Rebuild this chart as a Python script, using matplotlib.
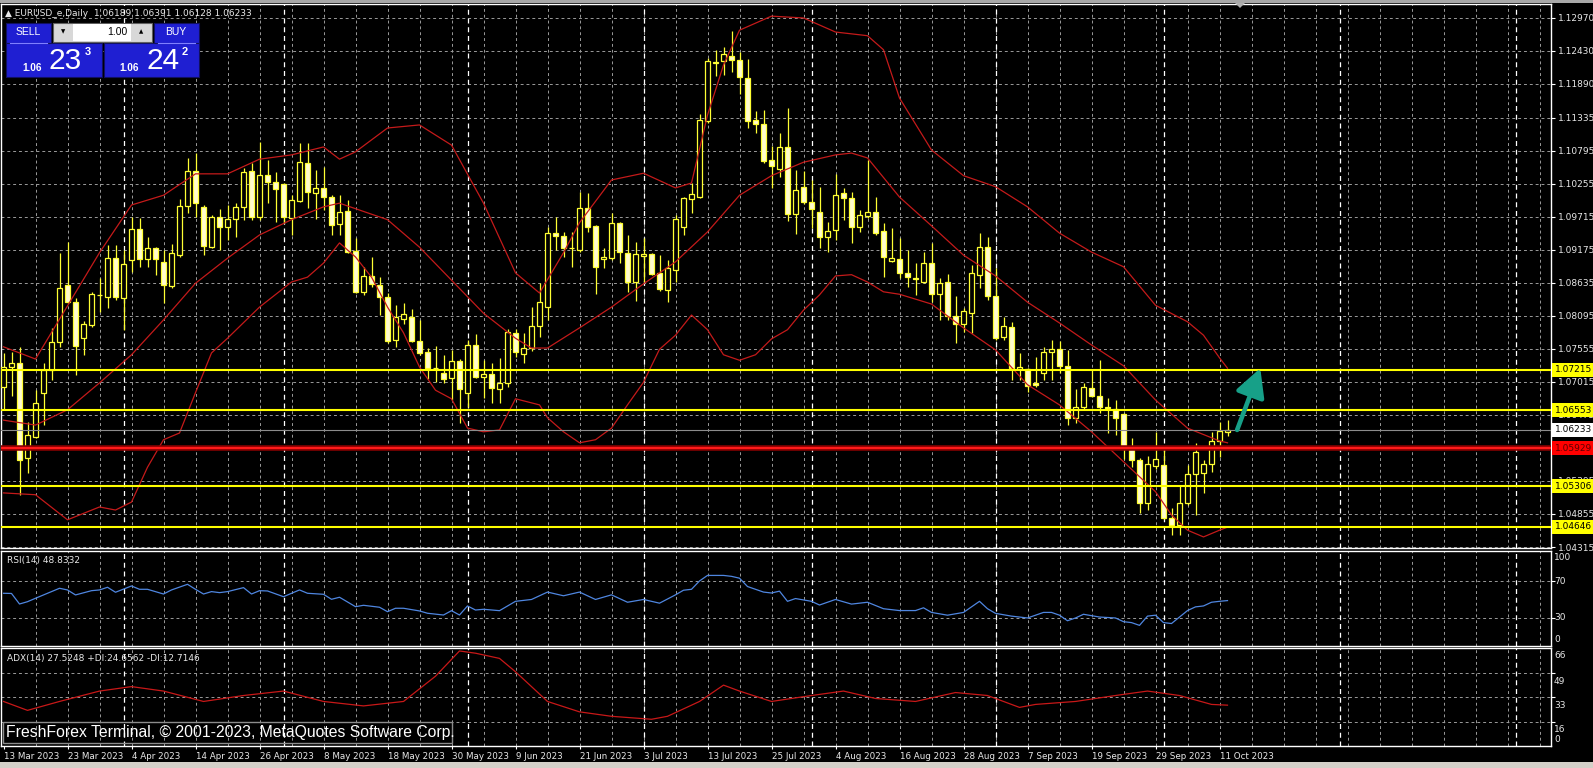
import matplotlib
matplotlib.use("Agg")
import matplotlib.pyplot as plt
from matplotlib.patches import Rectangle, Polygon
from matplotlib.transforms import blended_transform_factory

# ---- data (bar index 0 = 13 Mar 2023) ----
opens = [1.0693, 1.0726, 1.0732, 1.0577, 1.0611, 1.0683, 1.0721, 1.0767, 1.0860, 1.0832,
         1.0774, 1.0794, 1.0844, 1.0841, 1.0905, 1.0839, 1.0901, 1.0952, 1.0903, 1.0921,
         1.0898, 1.0858, 1.0909, 1.0989, 1.1046, 1.0988, 1.0922, 1.0971, 1.0955, 1.0968,
         1.0988, 1.1046, 1.0971, 1.1040, 1.1029, 1.1025, 1.0969, 1.0997, 1.1060, 1.1011,
         1.1019, 1.1004, 1.0960, 1.0981, 1.0916, 1.0849, 1.0875, 1.0860, 1.0841, 1.0770,
         1.0804, 1.0808, 1.0769, 1.0751, 1.0724, 1.0716, 1.0708, 1.0736, 1.0683, 1.0762,
         1.0710, 1.0715, 1.0690, 1.0700, 1.0781, 1.0747, 1.0757, 1.0793, 1.0824, 1.0945,
         1.0940, 1.0921, 1.0917, 1.0986, 1.0957, 1.0903, 1.0904, 1.0961, 1.0912, 1.0865,
         1.0907, 1.0911, 1.0880, 1.0852, 1.0885, 1.0955, 1.1001, 1.1004, 1.1128, 1.1225,
         1.1227, 1.1235, 1.1228, 1.1199, 1.1130, 1.1124, 1.1065, 1.1050, 1.1086, 1.0976,
         1.1021, 1.0996, 1.0979, 1.0938, 1.0950, 1.1011, 1.1002, 1.0955, 1.0973, 1.0979,
         1.0948, 1.0899, 1.0902, 1.0880, 1.0871, 1.0865, 1.0896, 1.0845, 1.0865, 1.0810,
         1.0797, 1.0814, 1.0876, 1.0922, 1.0842, 1.0775, 1.0791, 1.0723, 1.0723, 1.0700,
         1.0716, 1.0751, 1.0755, 1.0728, 1.0643, 1.0661, 1.0692, 1.0679, 1.0660, 1.0657,
         1.0649, 1.0593, 1.0574, 1.0503, 1.0564, 1.0566, 1.0479, 1.0467, 1.0503, 1.0551,
         1.0553, 1.0567, 1.0605, 1.06189]
highs = [1.0749, 1.0750, 1.0759, 1.0636, 1.0688, 1.0732, 1.0790, 1.0912, 1.0930, 1.0839,
         1.0802, 1.0849, 1.0871, 1.0926, 1.0926, 1.0918, 1.0971, 1.0969, 1.0938, 1.0922,
         1.0918, 1.0928, 1.1001, 1.1068, 1.1076, 1.0991, 1.0974, 1.0984, 1.0991, 1.0994,
         1.1052, 1.1060, 1.1094, 1.1065, 1.1045, 1.1027, 1.1007, 1.1092, 1.1092, 1.1048,
         1.1053, 1.1007, 1.1007, 1.0999, 1.0937, 1.0890, 1.0906, 1.0873, 1.0847, 1.0827,
         1.0830, 1.0821, 1.0803, 1.0757, 1.0760, 1.0746, 1.0754, 1.0739, 1.0770, 1.0780,
         1.0738, 1.0732, 1.0741, 1.0788, 1.0788, 1.0781, 1.0824, 1.0863, 1.0955, 1.0971,
         1.0947, 1.0947, 1.1012, 1.1010, 1.0958, 1.0921, 1.0978, 1.0963, 1.0942, 1.0930,
         1.0937, 1.0913, 1.0909, 1.0901, 1.0974, 1.1004, 1.1027, 1.1140, 1.1232, 1.1245,
         1.1250, 1.1276, 1.1241, 1.1230, 1.1145, 1.1146, 1.1088, 1.1109, 1.1150, 1.1048,
         1.1047, 1.1032, 1.1021, 1.0963, 1.1042, 1.1019, 1.1012, 1.0983, 1.1065, 1.1004,
         1.0961, 1.0953, 1.0937, 1.0917, 1.0896, 1.0914, 1.0929, 1.0871, 1.0878, 1.0842,
         1.0823, 1.0893, 1.0945, 1.0938, 1.0888, 1.0808, 1.0800, 1.0749, 1.0724, 1.0742,
         1.0759, 1.0770, 1.0769, 1.0754, 1.0690, 1.0700, 1.0721, 1.0738, 1.0675, 1.0672,
         1.0651, 1.0610, 1.0577, 1.0580, 1.0620, 1.0593, 1.0495, 1.0533, 1.0566, 1.0602,
         1.0574, 1.0620, 1.0636, 1.06391]
lows = [1.0655, 1.0679, 1.0516, 1.0553, 1.0610, 1.0631, 1.0705, 1.0759, 1.0830, 1.0713,
        1.0746, 1.0791, 1.0816, 1.0823, 1.0835, 1.0786, 1.0882, 1.0889, 1.0889, 1.0877,
        1.0831, 1.0855, 1.0906, 1.0978, 1.0971, 1.0909, 1.0921, 1.0917, 1.0933, 1.0938,
        1.0966, 1.0966, 1.0966, 1.0994, 1.0963, 1.0961, 1.0942, 1.0996, 1.0986, 1.0968,
        1.0983, 1.0942, 1.0942, 1.0912, 1.0847, 1.0844, 1.0857, 1.0811, 1.0765, 1.0759,
        1.0796, 1.0767, 1.0746, 1.0706, 1.0701, 1.0700, 1.0672, 1.0634, 1.0660, 1.0708,
        1.0675, 1.0667, 1.0667, 1.0693, 1.0742, 1.0732, 1.0752, 1.0775, 1.0803, 1.0917,
        1.0906, 1.0889, 1.0914, 1.0947, 1.0845, 1.0888, 1.0901, 1.0896, 1.0849, 1.0834,
        1.0865, 1.0876, 1.0850, 1.0832, 1.0865, 1.0942, 1.0978, 1.1002, 1.1125, 1.1202,
        1.1204, 1.1209, 1.1173, 1.1117, 1.1109, 1.1060, 1.1019, 1.1037, 1.0965, 1.0944,
        1.0993, 1.0953, 1.0921, 1.0914, 1.0933, 1.0966, 1.0929, 1.0947, 1.0969, 1.0942,
        1.0873, 1.0898, 1.0872, 1.0857, 1.0844, 1.0863, 1.0832, 1.0803, 1.0803, 1.0765,
        1.0783, 1.0781, 1.0855, 1.0835, 1.0770, 1.0770, 1.0705, 1.0705, 1.0685, 1.0693,
        1.0705, 1.0705, 1.0716, 1.0631, 1.0634, 1.0656, 1.0677, 1.0651, 1.0618, 1.0615,
        1.0575, 1.0562, 1.0487, 1.0492, 1.0559, 1.0477, 1.0451, 1.0451, 1.0500, 1.0484,
        1.0520, 1.0554, 1.0579, 1.06128]
closes = [1.0726, 1.0732, 1.0574, 1.0615, 1.0667, 1.0721, 1.0767, 1.0856, 1.0832, 1.0760,
          1.0797, 1.0845, 1.0843, 1.0905, 1.0841, 1.0895, 1.0952, 1.0903, 1.0921, 1.0903,
          1.0860, 1.0912, 1.0989, 1.1046, 1.0994, 1.0924, 1.0971, 1.0955, 1.0968, 1.0988,
          1.1045, 1.0971, 1.1040, 1.1029, 1.1017, 1.0971, 1.0999, 1.1061, 1.1012, 1.1019,
          1.1004, 1.0958, 1.0979, 1.0914, 1.0849, 1.0875, 1.0862, 1.0841, 1.0769, 1.0808,
          1.0812, 1.0769, 1.0749, 1.0724, 1.0725, 1.0706, 1.0736, 1.0690, 1.0762, 1.0710,
          1.0715, 1.0692, 1.0700, 1.0783, 1.0751, 1.0757, 1.0793, 1.0832, 1.0945, 1.0940,
          1.0921, 1.0920, 1.0986, 1.0955, 1.0890, 1.0906, 1.0961, 1.0914, 1.0865, 1.0911,
          1.0911, 1.0878, 1.0853, 1.0888, 1.0968, 1.1002, 1.1009, 1.1130, 1.1227, 1.1224,
          1.1238, 1.1228, 1.1200, 1.1128, 1.1124, 1.1063, 1.1055, 1.1086, 1.0976, 1.1016,
          1.0996, 1.0985, 1.0938, 1.0948, 1.1007, 1.1002, 1.0955, 1.0975, 1.0979, 1.0945,
          1.0906, 1.0904, 1.0880, 1.0873, 1.0870, 1.0896, 1.0845, 1.0863, 1.0810, 1.0797,
          1.0818, 1.0880, 1.0922, 1.0842, 1.0773, 1.0793, 1.0724, 1.0726, 1.0695, 1.0697,
          1.0751, 1.0755, 1.0728, 1.0643, 1.0661, 1.0693, 1.0679, 1.0661, 1.0659, 1.0643,
          1.0592, 1.0574, 1.0503, 1.0567, 1.0575, 1.0479, 1.0467, 1.0503, 1.0551, 1.0587,
          1.0567, 1.0605, 1.0621, 1.06233]

date_labels = ["13 Mar 2023", "23 Mar 2023", "4 Apr 2023", "14 Apr 2023", "26 Apr 2023",
               "8 May 2023", "18 May 2023", "30 May 2023", "9 Jun 2023", "21 Jun 2023",
               "3 Jul 2023", "13 Jul 2023", "25 Jul 2023", "4 Aug 2023", "16 Aug 2023",
               "28 Aug 2023", "7 Sep 2023", "19 Sep 2023", "29 Sep 2023", "11 Oct 2023"]
month_starts = [15, 35, 58, 80, 101, 124, 145, 167, 189]

# Bollinger bands (20, 2)
bb_up_idx = [0, 4, 8, 12, 16, 20, 24, 28, 32, 36, 40, 42, 44, 48, 52, 56, 60, 64, 67, 70,
             72, 76, 80, 84, 86, 88, 90, 92, 96, 100, 104, 108, 110, 112, 116, 120, 124,
             128, 132, 136, 140, 144, 148, 150, 152, 153]
bb_up = [1.0759, 1.0739, 1.0826, 1.0913, 1.0991, 1.1007, 1.1042, 1.1042, 1.1066, 1.1073,
         1.1086, 1.1066, 1.1078, 1.1117, 1.1122, 1.1089, 1.0994, 1.0880, 1.0847, 1.0913,
         1.0962, 1.1032, 1.1043, 1.1019, 1.1027, 1.1138, 1.1220, 1.1277, 1.1300, 1.1297,
         1.1274, 1.1268, 1.1245, 1.1166, 1.1081, 1.1039, 1.1021, 1.0988, 1.0945, 1.0914,
         1.0890, 1.0827, 1.0800, 1.0778, 1.0741, 1.0724]
bb_mid_idx = [0, 4, 8, 12, 16, 20, 24, 28, 32, 36, 40, 42, 44, 48, 52, 56, 60, 64, 66, 68,
              72, 76, 80, 84, 88, 92, 96, 100, 104, 106, 108, 112, 116, 120, 124, 128, 132,
              136, 140, 144, 148, 152, 153]
bb_mid = [1.0639, 1.0631, 1.0656, 1.0700, 1.0746, 1.0803, 1.0863, 1.0904, 1.0942, 1.0967,
          1.0988, 1.0994, 1.0985, 1.0967, 1.0922, 1.0868, 1.0814, 1.0773, 1.0757, 1.0757,
          1.0790, 1.0824, 1.0862, 1.0898, 1.0947, 1.1007, 1.1039, 1.1061, 1.1073, 1.1076,
          1.1068, 1.1004, 1.0957, 1.0909, 1.0875, 1.0832, 1.0798, 1.0762, 1.0728, 1.0672,
          1.0626, 1.0605, 1.0602]
bb_low_idx = [0, 4, 8, 12, 14, 16, 18, 20, 22, 24, 26, 28, 32, 36, 38, 40, 42, 44, 46, 48,
              50, 52, 54, 56, 58, 60, 62, 64, 67, 68, 70, 72, 74, 76, 78, 80, 82, 84, 86,
              88, 90, 92, 94, 96, 98, 100, 102, 104, 106, 108, 110, 112, 116, 120, 124,
              128, 132, 136, 140, 144, 146, 148, 150, 152, 153]
bb_low = [1.0520, 1.0517, 1.0476, 1.0497, 1.0492, 1.0505, 1.0562, 1.0607, 1.0618, 1.0684,
          1.0749, 1.0773, 1.0824, 1.0865, 1.0873, 1.0896, 1.0929, 1.0906, 1.0873, 1.0824,
          1.0782, 1.0726, 1.0688, 1.0674, 1.0626, 1.0620, 1.0623, 1.0674, 1.0664, 1.0643,
          1.0620, 1.0602, 1.0607, 1.0626, 1.0664, 1.0701, 1.0755, 1.0778, 1.0811, 1.0787,
          1.0746, 1.0737, 1.0746, 1.0772, 1.0787, 1.0819, 1.0844, 1.0875, 1.0877, 1.0865,
          1.0849, 1.0845, 1.0829, 1.0790, 1.0754, 1.0697, 1.0664, 1.0620, 1.0571, 1.0522,
          1.0484, 1.0459, 1.0448, 1.0459, 1.0464]

# RSI(14)
rsi_idx = [0, 1, 2, 3, 4, 5, 7, 8, 9, 11, 12, 13, 14, 16, 17, 18, 20, 21, 23, 24, 25, 26,
           27, 28, 30, 31, 32, 33, 35, 37, 38, 40, 41, 42, 44, 45, 47, 48, 49, 50, 52, 53,
           55, 56, 57, 58, 59, 60, 62, 64, 66, 68, 70, 72, 74, 76, 78, 80, 82, 84, 85, 86,
           87, 88, 90, 91, 92, 93, 95, 96, 97, 98, 99, 101, 102, 104, 106, 108, 110, 112,
           114, 115, 116, 118, 120, 121, 122, 123, 124, 126, 128, 130, 131, 132, 133, 134,
           135, 137, 139, 140, 141, 142, 143, 144, 145, 146, 147, 148, 149, 150, 151, 152,
           153]
rsi_val = [56.7, 56.5, 45.1, 47.6, 51.3, 54.9, 62.1, 60.3, 54.9, 59.5, 60.3, 63.2, 57.8,
           64.6, 61.0, 61.0, 55.9, 60.3, 66.4, 61.0, 55.9, 58.5, 57.4, 58.5, 62.8, 55.9,
           59.5, 59.2, 53.0, 60.3, 56.7, 55.6, 50.2, 52.4, 42.2, 43.7, 41.6, 36.8, 40.5,
           40.5, 37.6, 35.1, 33.2, 37.9, 33.2, 43.0, 38.6, 39.4, 37.9, 48, 50, 58, 54, 58,
           50, 55, 47, 50, 46, 55, 60, 61, 70, 76, 76, 75, 73, 64, 58, 57, 59, 48, 51, 48,
           44, 50, 45, 47, 40, 38, 38, 41, 36, 33, 36, 42, 48, 40, 35, 32, 30, 36, 36, 33,
           27, 30, 34, 31, 30, 26, 25, 22, 32, 33, 25, 24, 31, 38, 42, 43, 47, 48, 48.8]

# ADX(14) main line
adx_idx = [0, 3, 7, 12, 16, 20, 25, 30, 35, 40, 45, 50, 54, 57, 59, 62, 64, 68, 72, 76, 81,
           83, 87, 90, 92, 96, 101, 105, 109, 114, 119, 123, 127, 129, 134, 139, 143, 147,
           151, 153]
adx_val = [30, 24, 30, 37, 40, 37, 30, 34, 37, 30, 27, 30, 47, 64, 62.5, 59, 50, 30, 23, 20,
           18, 20, 30, 41, 37, 30, 34, 37, 32, 30, 36, 34, 26, 28, 30, 34, 37, 34, 28, 27.5]

grid_prices = [1.12970, 1.12430, 1.11890, 1.11335, 1.10795, 1.10255, 1.09715, 1.09175,
               1.08635, 1.08095, 1.07555, 1.07015, 1.06475, 1.05935, 1.05395, 1.04855,
               1.04315]
yellow_levels = [1.07215, 1.06553, 1.05306, 1.04646]
red_level = 1.05929
bid_price = 1.06233

# ---- layout (pixels) ----
W, H = 1593, 768
BAR_PX = 8.0
X0_PX = 3.5           # pixel x of bar 0
AX_L, AX_R = 1, 1551
PX_PER_PRICE = 1 / 0.0001636
P_AT_Y0 = 1.13264     # price at pixel row 0


def fr(x0, y0, x1, y1):
    return [x0 / W, 1 - y1 / H, (x1 - x0) / W, (y1 - y0) / H]


def px(x, y):
    return x / W, 1 - y / H


fig = plt.figure(figsize=(W / 100, H / 100), dpi=100, facecolor="black")

ax = fig.add_axes(fr(AX_L, 4, AX_R, 548))
ax_rsi = fig.add_axes(fr(AX_L, 551, AX_R, 646))
ax_adx = fig.add_axes(fr(AX_L, 648, AX_R, 746))

xlim = ((AX_L - X0_PX) / BAR_PX, (AX_R - X0_PX) / BAR_PX)
grid_c = "#9a9a9a"
dash = (0, (3, 3))
txt_c = "#e8e8e8"

for a in (ax, ax_rsi, ax_adx):
    a.set_facecolor("black")
    a.set_xlim(*xlim)
    for s in a.spines.values():
        s.set_color("white")
        s.set_linewidth(1.0)
    for k in range(4, 194, 4):
        a.axvline(k, color=grid_c, lw=0.7, ls=dash, zorder=0)
    for k in month_starts:
        a.axvline(k, color="white", lw=0.9, ls=(0, (4, 3)), zorder=0.5)
    a.tick_params(axis="x", bottom=False, labelbottom=False)

# ---- main price panel ----
ax.set_ylim(P_AT_Y0 - 548 / PX_PER_PRICE, P_AT_Y0 - 4 / PX_PER_PRICE)
for p in grid_prices:
    ax.axhline(p, color=grid_c, lw=0.7, ls=dash, zorder=0)
ax.yaxis.tick_right()
ax.set_yticks(grid_prices)
ax.set_yticklabels(["%.5f" % p for p in grid_prices])
ax.tick_params(axis="y", colors="white", labelcolor=txt_c, length=3, width=0.8,
               pad=2, labelsize=6.5, left=False)

n = len(closes)
xs = list(range(n))
ax.vlines(xs, lows, highs, color="#ffff33", lw=0.9, zorder=2)
bull = [c >= o for o, c in zip(opens, closes)]
bottoms = [min(o, c) for o, c in zip(opens, closes)]
heights = [max(abs(c - o), 0.00004) for o, c in zip(opens, closes)]
faces = ["black" if b else "#fffbd0" for b in bull]
ax.bar(xs, heights, bottom=bottoms, width=0.55, color=faces, edgecolor="#ffff33",
       linewidth=0.9, zorder=3)

band_c = "#c41a1a"
ax.plot(bb_up_idx, bb_up, color=band_c, lw=0.9, zorder=4)
ax.plot(bb_mid_idx, bb_mid, color=band_c, lw=0.9, zorder=4)
ax.plot(bb_low_idx, bb_low, color=band_c, lw=0.9, zorder=4)

for p in yellow_levels:
    ax.axhline(p, color="#ffff00", lw=1.5, zorder=5)
ax.axhline(red_level, color="#8a0000", lw=4.0, zorder=5)
ax.axhline(red_level, color="#ff1a1a", lw=1.6, zorder=5.1)
ax.axhline(bid_price, color="#8c8c8c", lw=0.8, zorder=5)

tr = blended_transform_factory(ax.transAxes, ax.transData)
lx = (1555 - AX_L) / (AX_R - AX_L)
box_items = [(p, "#ffff00", "black") for p in yellow_levels]
box_items += [(bid_price, "white", "black"), (red_level, "#ff0000", "#5a0000")]
for p, fc, tc in box_items:
    ax.text(lx, p, "%.5f" % p, transform=tr, ha="left", va="center", fontsize=6.5,
            color=tc, clip_on=False, zorder=10,
            bbox=dict(boxstyle="square,pad=0.28", fc=fc, ec="none"))

ax.annotate("", xy=(157.1, 1.0724), xytext=(154.2, 1.0623),
            arrowprops=dict(arrowstyle="-|>,head_length=0.85,head_width=0.45",
                            color="#17a088", lw=3.3, mutation_scale=20,
                            shrinkA=0, shrinkB=0), zorder=8)

# ---- RSI panel ----
ax_rsi.set_ylim(-0.3, 102.4)
for v in (70, 30):
    ax_rsi.axhline(v, color=grid_c, lw=0.7, ls=dash, zorder=0)
ax_rsi.plot(rsi_idx, rsi_val, color="#4f86e0", lw=0.9, zorder=3)
ax_rsi.yaxis.tick_right()
ax_rsi.set_yticks([70, 30])
ax_rsi.tick_params(axis="y", colors="white", length=3, width=0.8, labelright=False,
                   left=False)

# ---- ADX panel ----
ax_adx.set_ylim(0, 66)
for v in (49, 33, 16):
    ax_adx.axhline(v, color=grid_c, lw=0.7, ls=dash, zorder=0)
ax_adx.plot(adx_idx, adx_val, color="#c81818", lw=0.9, zorder=3)
ax_adx.yaxis.tick_right()
ax_adx.set_yticks([49, 33, 16])
ax_adx.tick_params(axis="y", colors="white", length=3, width=0.8, labelright=False,
                   left=False)
ax_adx.set_xticks(list(range(0, 8 * len(date_labels), 8)))
ax_adx.set_xticklabels(date_labels, ha="left")
ax_adx.tick_params(axis="x", bottom=True, labelbottom=True, colors="white",
                   labelcolor=txt_c, length=2.5, width=0.8, pad=1.5, labelsize=6.3)

# right-hand labels of the indicator windows
for lab, y in [("100", 558), ("70", 581), ("30", 618), ("0", 639),
               ("66", 655), ("49", 681), ("33", 706), ("16", 729), ("0", 739)]:
    fig.text(*px(1554, y), lab, color=txt_c, fontsize=6.5, ha="left", va="center")

fig.text(*px(7, 561), "RSI(14) 48.8332", color=txt_c, fontsize=6.5, va="center")
fig.text(*px(7, 658), "ADX(14) 27.5248 +DI:24.6562 -DI:12.7146", color=txt_c,
         fontsize=6.5, va="center")

# header line
fig.text(*px(5, 13), "\u25b2 EURUSD_e,Daily  1.06189 1.06391 1.06128 1.06233",
         color=txt_c, fontsize=6.5, va="center")

# ---- one-click trading panel ----
def prect(x0, y0, x1, y1, **kw):
    fig.add_artist(Rectangle(px(x0, y1), (x1 - x0) / W, (y1 - y0) / H,
                             transform=fig.transFigure, **kw))


blue = "#1f1fd2"
edge = "#101060"
prect(6, 23, 51, 44, fc=blue, ec=edge, lw=0.8)
prect(6, 43, 102, 77, fc=blue, ec=edge, lw=0.8)
prect(154, 23, 199, 44, fc=blue, ec=edge, lw=0.8)
prect(104, 43, 199, 77, fc=blue, ec=edge, lw=0.8)
prect(53, 23, 152, 42, fc="#d8d8d8", ec="#606060", lw=0.8)
prect(73, 24, 131, 41, fc="white", ec="none")
fig.add_artist(plt.Line2D([10 / W, 47 / W], [1 - 43 / H] * 2, color="#8080ff", lw=0.8))
fig.add_artist(plt.Line2D([158 / W, 195 / W], [1 - 43 / H] * 2, color="#8080ff", lw=0.8))

sans = "Liberation Sans"
fig.text(*px(28, 32), "SELL", color="white", fontsize=7.5, family=sans,
         ha="center", va="center")
fig.text(*px(176, 32), "BUY", color="white", fontsize=7.5, family=sans,
         ha="center", va="center")
fig.text(*px(127, 32), "1.00", color="black", fontsize=7.5, family=sans,
         ha="right", va="center")
fig.text(*px(63, 32), "\u25bc", color="black", fontsize=4, ha="center", va="center")
fig.text(*px(141, 32), "\u25b2", color="black", fontsize=4, ha="center", va="center")
for x_small, x_big, x_sup, big, sup in [(22, 48, 85, "23", "3"), (119, 146, 182, "24", "2")]:
    fig.text(*px(x_small, 68), "1.06", color="white", fontsize=7.2, family=sans,
             weight="bold", va="center")
    fig.text(*px(x_big, 61), big, color="white", fontsize=21.5, family=sans,
             va="center")
    fig.text(*px(x_sup, 52), sup, color="white", fontsize=8, family=sans,
             weight="bold", va="center")

# copyright box
prect(3, 722, 452, 743, fc="none", ec="#8c8c8c", lw=1.0)
fig.text(*px(6, 733), "FreshForex Terminal, \u00a9 2001-2023, MetaQuotes Software Corp.",
         color="white", fontsize=11.3, family=sans, va="center")

# window frame bits
prect(0, 0, W, 3, fc="#a8a8a8", ec="none")
prect(0, 762, W, 768, fc="#d4d0c8", ec="none")
fig.add_artist(Polygon([px(1235, 3), px(1245, 3), px(1240, 8)], closed=True,
                       transform=fig.transFigure, fc="#b0b0b0", ec="none"))

fig.savefig("out.png", dpi=100, facecolor="black")
